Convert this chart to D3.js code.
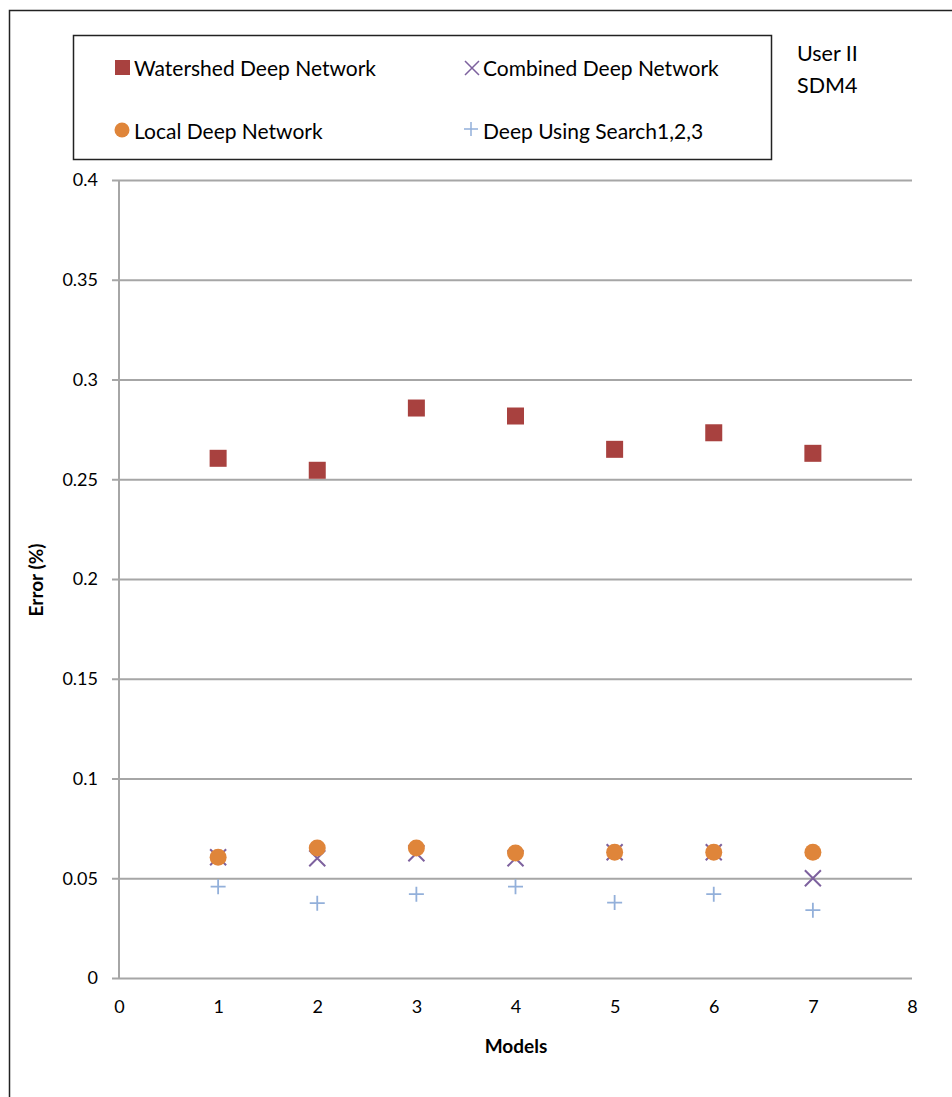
<!DOCTYPE html>
<html><head><meta charset="utf-8">
<script src="https://cdn.jsdelivr.net/npm/d3@7"></script>
<style>body{margin:0;background:#fff}svg{display:block}text{font-family:Lato,"Open Sans",sans-serif;fill:#000}</style>
</head><body><svg id="c" width="952" height="1097"></svg>
<script>
const models = [1,2,3,4,5,6,7];
const watershed = [0.2605,0.2545,0.2857,0.2817,0.265,0.2733,0.263];
const combined = [0.0605,0.0600,0.0625,0.0600,0.063,0.063,0.050];
const localNet = [0.0605,0.0652,0.0652,0.0627,0.063,0.063,0.063];
const search = [0.0458,0.0375,0.0420,0.0458,0.0378,0.0420,0.0340];
const xTicks = [0,1,2,3,4,5,6,7,8];
const yTicks = [0,0.05,0.1,0.15,0.2,0.25,0.3,0.35,0.4];
const yTickLabels = ["0","0.05","0.1","0.15","0.2","0.25","0.3","0.35","0.4"];
const seriesNames = ["Watershed Deep Network","Combined Deep Network","Local Deep Network","Deep Using Search1,2,3"];

const svg = d3.select("#c");
const x = d3.scaleLinear().domain([0,8]).range([119,912]);
const y = d3.scaleLinear().domain([0,0.4]).range([978,180]);
const gridCol = "#a6a6a6";
const cRed = "#a8413f", cOrange = "#df853a", cPurple = "#7d619e", cBlue = "#93b0da";
const ff = "Lato,'Open Sans',sans-serif";

// outer frame
svg.append("path").attr("d","M9.5,1097 L9.5,10.5 L952,10.5").attr("fill","none").attr("stroke","#222").attr("stroke-width",1.5);

// gridlines via axis
const gy = svg.append("g").attr("transform","translate(912,0)")
  .call(d3.axisLeft(y).tickValues(yTicks).tickSize(912-112).tickFormat(""));
gy.select(".domain").remove();
gy.selectAll(".tick line").attr("stroke",gridCol).attr("stroke-width",2);
gy.selectAll(".tick text").remove();
const gyl = svg.append("g").attr("transform","translate(112,0)").call(d3.axisLeft(y).tickValues(yTicks).tickSize(0).tickPadding(14).tickFormat((d,i)=>yTickLabels[i]));
gyl.select(".domain").remove();
gyl.selectAll("text").style("font-size","18px").style("font-family",ff);
// y axis line
svg.append("line").attr("x1",x(0)).attr("x2",x(0)).attr("y1",y(0.4)).attr("y2",y(0)).attr("stroke",gridCol).attr("stroke-width",2);

// x axis labels
const gx = svg.append("g").attr("transform","translate(0,"+y(0)+")").call(d3.axisBottom(x).tickValues(xTicks).tickSize(0).tickPadding(22).tickFormat(d3.format("d")));
gx.select(".domain").remove();
gx.selectAll("text").style("font-size","18px").style("font-family",ff);

// axis titles
svg.append("text").attr("x",516).attr("y",1053).attr("text-anchor","middle").style("font-weight","bold").style("font-size","19px").text("Models");
svg.append("text").attr("transform","translate(43,580) rotate(-90)").attr("text-anchor","middle").style("font-weight","bold").style("font-size","19px").text("Error (%)");

// markers
const sq = 17, r = 8.5, xs = 8, ps = 7.5;
function drawX(g, cx, cy, s, col, w){
  g.append("path").attr("d",`M${cx-s},${cy-s}L${cx+s},${cy+s}M${cx-s},${cy+s}L${cx+s},${cy-s}`).attr("stroke",col).attr("stroke-width",w).attr("fill","none");
}
function drawPlus(g, cx, cy, s, col, w){
  g.append("path").attr("d",`M${cx-s},${cy}L${cx+s},${cy}M${cx},${cy-s}L${cx},${cy+s}`).attr("stroke",col).attr("stroke-width",w).attr("fill","none");
}
const pts = svg.append("g");
models.forEach((m,i)=>{
  pts.append("rect").attr("x",x(m)-sq/2).attr("y",y(watershed[i])-sq/2).attr("width",sq).attr("height",sq).attr("fill",cRed);
});
models.forEach((m,i)=> drawX(pts, x(m), y(combined[i]), xs, cPurple, 2));
models.forEach((m,i)=>{
  pts.append("circle").attr("cx",x(m)).attr("cy",y(localNet[i])).attr("r",r).attr("fill",cOrange);
});
models.forEach((m,i)=> drawPlus(pts, x(m), y(search[i]), ps, cBlue, 1.8));

// legend
svg.append("rect").attr("x",73.5).attr("y",35.5).attr("width",698).attr("height",124).attr("fill","none").attr("stroke","#222").attr("stroke-width",1.5);
const lg = svg.append("g");
lg.append("rect").attr("x",115).attr("y",60).attr("width",15).attr("height",15).attr("fill",cRed);
drawX(lg, 472, 68, 7, cPurple, 1.5);
lg.append("circle").attr("cx",122).attr("cy",130).attr("r",7.5).attr("fill",cOrange);
drawPlus(lg, 471, 129, 7, cBlue, 1.5);
const lpos = [[134,76],[483,76],[134,139],[483,139]];
seriesNames.forEach((n,i)=>{
  lg.append("text").attr("x",lpos[i][0]).attr("y",lpos[i][1]).style("font-size","21px").text(n);
});
svg.append("text").attr("x",797).attr("y",61).style("font-size","21.5px").text("User II");
svg.append("text").attr("x",797).attr("y",93).style("font-size","21.5px").text("SDM4");
</script></body></html>
